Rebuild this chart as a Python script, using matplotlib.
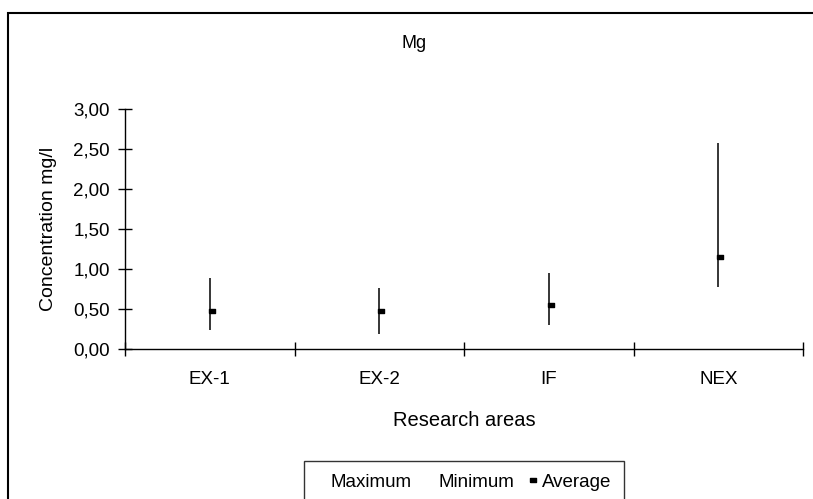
import numpy as np
import matplotlib
matplotlib.use('Agg')
import matplotlib.pyplot as plt
from matplotlib.lines import Line2D
from matplotlib.patches import Rectangle
from matplotlib.ticker import FuncFormatter, FixedLocator

plt.rcParams['font.family'] = ['Liberation Sans', 'DejaVu Sans']

# data
areas = ['EX-1', 'EX-2', 'IF', 'NEX']
maximum = [0.88, 0.76, 0.95, 2.58]
minimum = [0.23, 0.18, 0.30, 0.77]
average = [0.47, 0.47, 0.55, 1.15]

fs = 13.5
W, H = 813, 499
# small flat rectangle like the Excel marker
dash = [(-1, -0.6), (1, -0.6), (1, 0.6), (-1, 0.6), (-1, -0.6)]

fig = plt.figure(figsize=(8.13, 4.99), dpi=100)
ax = fig.add_axes([125/W, 1 - 348.5/H, 678/W, 239.5/H])

x = np.arange(len(areas)) + 0.5
ax.vlines(x, minimum, maximum, color='black', lw=1.1)
ax.plot(x + 0.012, average, linestyle='none', marker=dash, ms=4, color='black')

ax.set_xlim(0, 4)
ax.set_ylim(0, 3)
ax.set_yticks(np.arange(0, 3.01, 0.5))
ax.yaxis.set_major_formatter(FuncFormatter(lambda v, p: f'{v:.2f}'.replace('.', ',')))
ax.xaxis.set_major_locator(FixedLocator([0, 1, 2, 3, 4]))
ax.xaxis.set_major_formatter(FuncFormatter(lambda v, p: ''))
ax.xaxis.set_minor_locator(FixedLocator(x))
ax.set_xticklabels(areas, minor=True)

ax.tick_params(axis='both', which='major', direction='inout', length=10, width=1, labelsize=fs)
ax.tick_params(axis='y', pad=6)
ax.tick_params(axis='x', which='minor', length=0, pad=16, labelsize=fs)

for s in ['top', 'right']:
    ax.spines[s].set_visible(False)
for s in ['left', 'bottom']:
    ax.spines[s].set_linewidth(1)

fig.text(464.7/W, 1 - 426/H, 'Research areas', fontsize=14.5, ha='center', va='baseline')
fig.text(53/W, 1 - 228.5/H, 'Concentration mg/l', fontsize=14, rotation=90,
         rotation_mode='anchor', ha='center', va='baseline')
fig.text(414.5/W, 1 - 48/H, 'Mg', fontsize=13, ha='center', va='baseline')

# legend (bottom cut off as in the original)
handles = [Line2D([], [], linestyle='none'),
           Line2D([], [], linestyle='none'),
           Line2D([], [], linestyle='none', marker=dash, ms=4, color='black')]
leg = fig.legend(handles, ['Maximum', 'Minimum', 'Average'], ncol=3,
                 loc='upper center', bbox_to_anchor=(464/W, 1 - 460.7/H),
                 fontsize=fs, frameon=True, fancybox=False, edgecolor='black',
                 handlelength=0.43, handletextpad=0.28, columnspacing=0.75,
                 borderpad=0.7, borderaxespad=0)
leg.get_frame().set_linewidth(1)

# outer chart border
fig.add_artist(Rectangle((8/W, -0.1), 1.2, 1.1 - 13/H, transform=fig.transFigure,
                         fill=False, edgecolor='black', lw=1.5))

fig.savefig('out.png', dpi=100)
